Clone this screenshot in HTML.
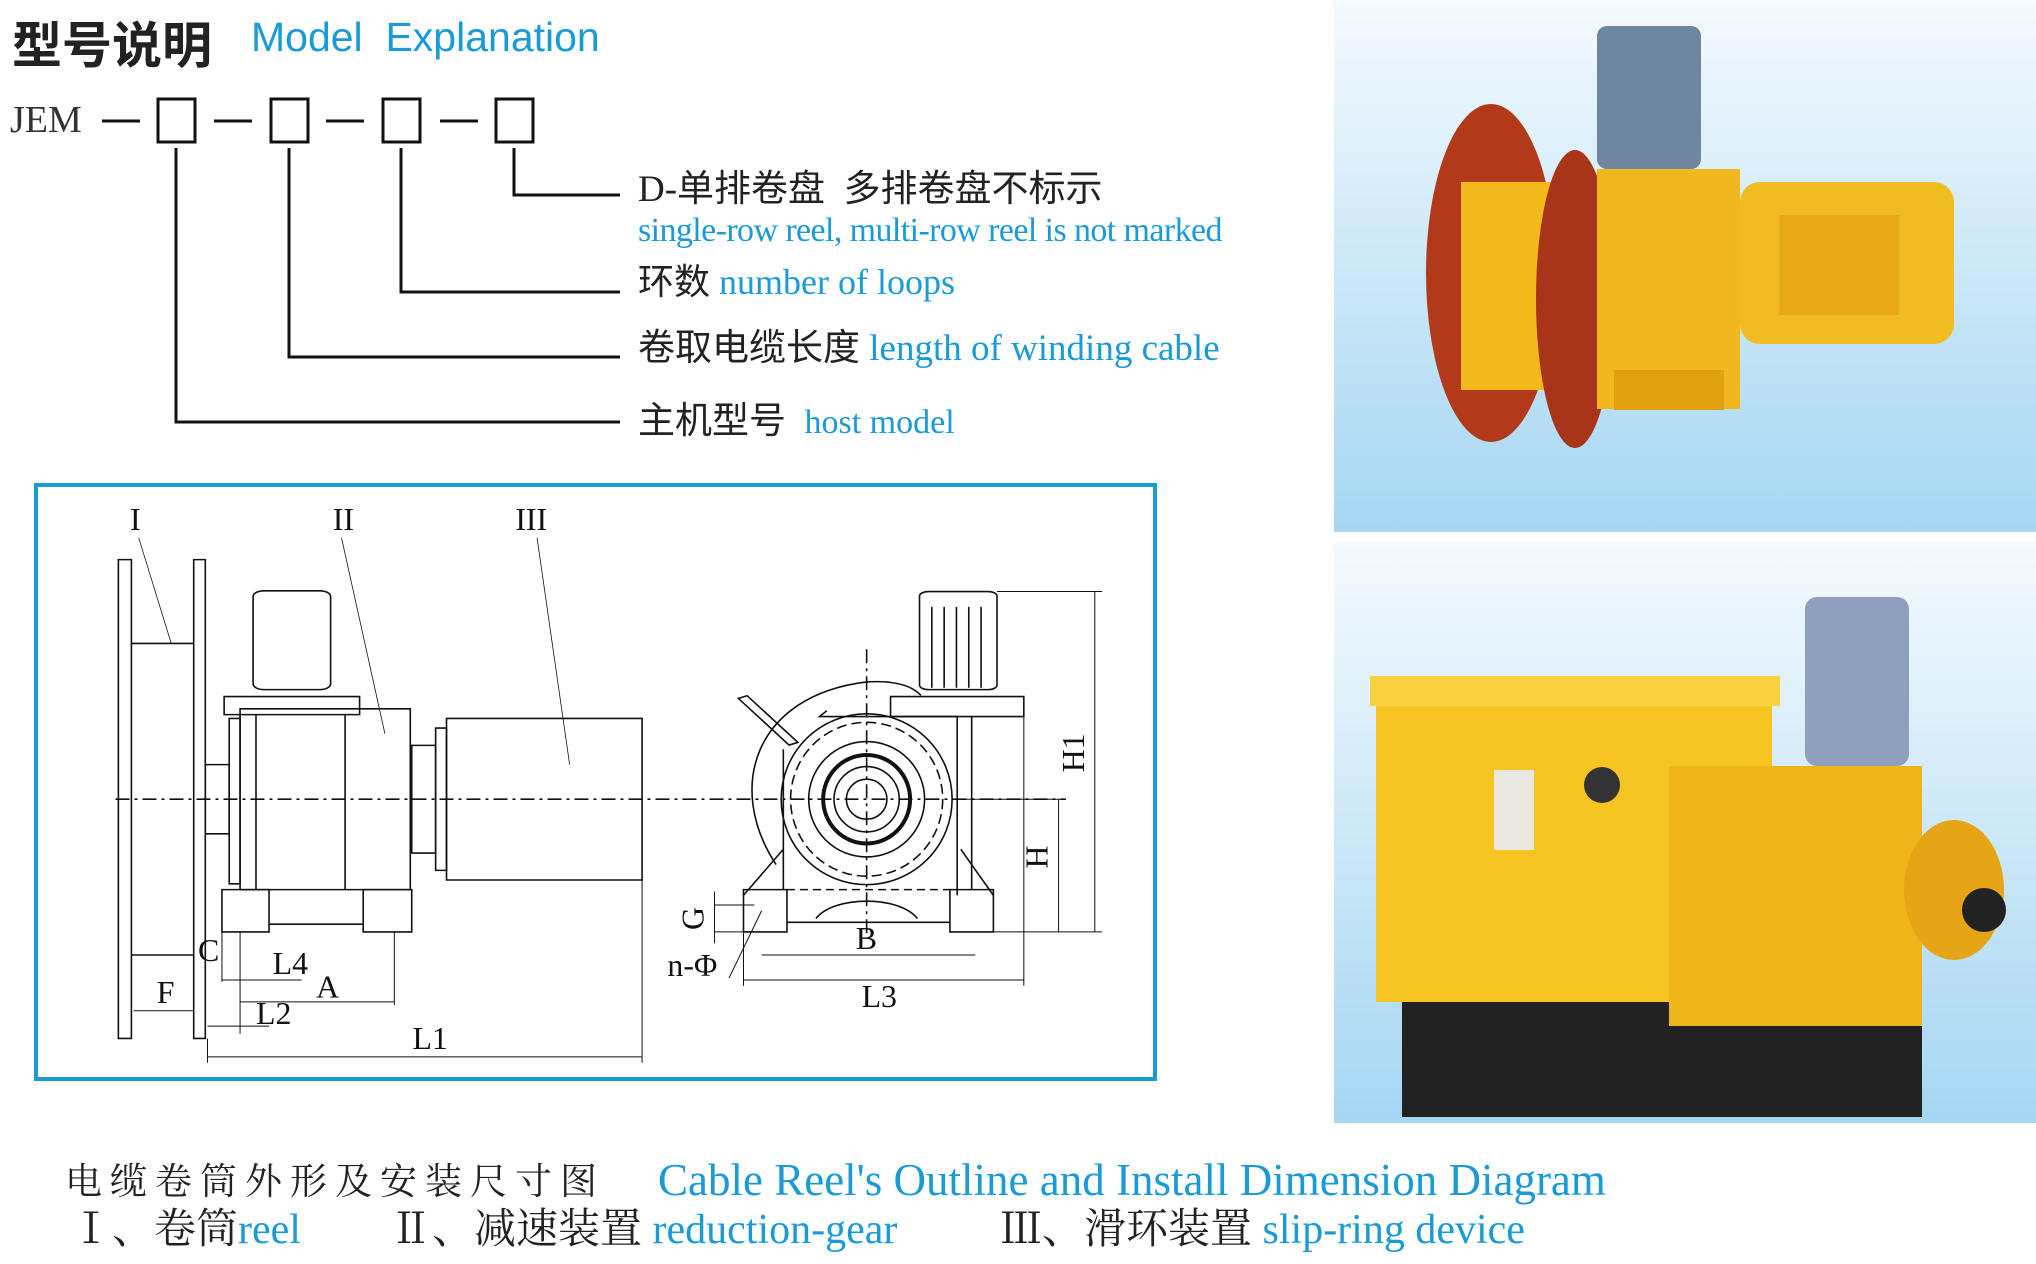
<!DOCTYPE html>
<html><head><meta charset="utf-8"><style>
body{margin:0;width:2036px;height:1264px;background:#fff;position:relative;overflow:hidden;font-family:"Liberation Serif","Noto Serif CJK SC",serif}
.a{position:absolute;white-space:nowrap;line-height:1}
.b{color:#1a9ad6}
.k{color:#222;font-family:"Liberation Serif","Noto Sans CJK SC",serif}
</style></head><body>
<div class="a" style="left:12px;top:6px;font:bold 50px 'Noto Sans CJK SC',sans-serif;color:#222">型号说明</div>
<div class="a b" style="left:251px;top:14px;font:41px 'Liberation Sans',sans-serif">Model&nbsp; Explanation</div>
<div class="a k" style="left:10px;top:101px;font-size:38px;color:#333">JEM</div>

<svg style="position:absolute;left:0;top:0" width="1300" height="460">
<g stroke="#111" stroke-width="3" fill="none">
<line x1="102" y1="121" x2="140" y2="121"/><line x1="214" y1="121" x2="252" y2="121"/><line x1="326" y1="121" x2="364" y2="121"/><line x1="440" y1="121" x2="478" y2="121"/>
<rect x="158" y="99" width="37" height="43"/><rect x="271" y="99" width="37" height="43"/><rect x="383" y="99" width="37" height="43"/><rect x="496" y="99" width="37" height="43"/>
<polyline points="176,148 176,422 620,422"/><polyline points="289,148 289,357 620,357"/><polyline points="401,148 401,292 620,292"/><polyline points="514,148 514,195 620,195"/>
</g></svg>
<div class="a k" style="left:638px;top:171px;font-size:37px">D-单排卷盘&nbsp; 多排卷盘不标示</div>
<div class="a b" style="left:638px;top:214px;font-size:34px;letter-spacing:-0.6px">single-row reel, multi-row reel is not marked</div>
<div class="a k" style="left:638px;top:264px;font-size:36px">环数 <span class="b">number of loops</span></div>
<div class="a k" style="left:638px;top:330px;font-size:37px">卷取电缆长度 <span class="b">length of winding cable</span></div>
<div class="a k" style="left:638px;top:403px;font-size:37px">主机型号&nbsp; <span class="b" style="font-size:34px">host model</span></div>

<div style="position:absolute;left:34px;top:483px;width:1115px;height:590px;border:4px solid #1a9ad6"></div>
<svg style="position:absolute;left:30px;top:480px" width="1130" height="600" viewBox="0 0 1560 1560" preserveAspectRatio="none">
<g stroke="#111" fill="none" stroke-width="1.6" vector-effect="non-scaling-stroke">
<rect x="122" y="207" width="18" height="1245" vector-effect="non-scaling-stroke"/>
<rect x="226" y="207" width="16" height="1245" vector-effect="non-scaling-stroke"/>
<line x1="140" y1="425" x2="226" y2="425" vector-effect="non-scaling-stroke"/>
<line x1="140" y1="1235" x2="226" y2="1235" vector-effect="non-scaling-stroke"/>
<rect x="242" y="740" width="33" height="180" vector-effect="non-scaling-stroke"/>
<rect x="308" y="288" width="107" height="257" rx="15" vector-effect="non-scaling-stroke"/>
<rect x="268" y="563" width="187" height="47" vector-effect="non-scaling-stroke"/>
<rect x="290" y="595" width="235" height="470" vector-effect="non-scaling-stroke"/>
<line x1="312" y1="610" x2="312" y2="1065" vector-effect="non-scaling-stroke"/>
<line x1="435" y1="610" x2="435" y2="1065" vector-effect="non-scaling-stroke"/>
<rect x="275" y="620" width="15" height="430" vector-effect="non-scaling-stroke"/>
<rect x="265" y="1065" width="65" height="110" vector-effect="non-scaling-stroke"/>
<rect x="460" y="1065" width="67" height="110" vector-effect="non-scaling-stroke"/>
<line x1="330" y1="1155" x2="460" y2="1155" vector-effect="non-scaling-stroke"/>
<rect x="527" y="690" width="33" height="280" vector-effect="non-scaling-stroke"/>
<rect x="560" y="645" width="15" height="370" vector-effect="non-scaling-stroke"/>
<rect x="575" y="620" width="270" height="420" vector-effect="non-scaling-stroke"/>
<line x1="118" y1="830" x2="1430" y2="830" stroke-dasharray="14 5 3 5" vector-effect="non-scaling-stroke"/>
<g stroke-width="0.8"><line x1="150" y1="150" x2="195" y2="425" vector-effect="non-scaling-stroke"/><line x1="430" y1="150" x2="490" y2="660" vector-effect="non-scaling-stroke"/><line x1="700" y1="150" x2="745" y2="740" vector-effect="non-scaling-stroke"/></g>
<g stroke-width="1">
<line x1="265" y1="1300" x2="375" y2="1300" vector-effect="non-scaling-stroke"/>
<line x1="290" y1="1357" x2="503" y2="1357" vector-effect="non-scaling-stroke"/>
<line x1="143" y1="1380" x2="226" y2="1380" vector-effect="non-scaling-stroke"/>
<line x1="245" y1="1420" x2="330" y2="1420" vector-effect="non-scaling-stroke"/>
<line x1="245" y1="1500" x2="845" y2="1500" vector-effect="non-scaling-stroke"/>
<line x1="845" y1="1040" x2="845" y2="1515" vector-effect="non-scaling-stroke"/>
<line x1="503" y1="1175" x2="503" y2="1365" vector-effect="non-scaling-stroke"/>
<line x1="290" y1="1175" x2="290" y2="1440" vector-effect="non-scaling-stroke"/>
<line x1="265" y1="1175" x2="265" y2="1305" vector-effect="non-scaling-stroke"/>
<line x1="245" y1="1452" x2="245" y2="1515" vector-effect="non-scaling-stroke"/>
</g>
<path d="M1030,1000 C960,800 1000,560 1155,525 C1200,520 1220,540 1230,560" vector-effect="non-scaling-stroke"/>
<ellipse cx="1155" cy="830" rx="118" ry="222" vector-effect="non-scaling-stroke"/>
<ellipse cx="1155" cy="830" rx="105" ry="200" stroke-dasharray="10 5" vector-effect="non-scaling-stroke"/>
<ellipse cx="1155" cy="830" rx="80" ry="150" vector-effect="non-scaling-stroke"/>
<ellipse cx="1155" cy="830" rx="60" ry="115" stroke-width="4" vector-effect="non-scaling-stroke"/>
<ellipse cx="1155" cy="830" rx="45" ry="85" vector-effect="non-scaling-stroke"/>
<ellipse cx="1155" cy="830" rx="28" ry="52" vector-effect="non-scaling-stroke"/>
<line x1="1155" y1="440" x2="1155" y2="1180" stroke-dasharray="14 5 3 5" vector-effect="non-scaling-stroke"/>
<rect x="1228" y="290" width="107" height="255" rx="12" vector-effect="non-scaling-stroke"/>
<path d="M1245,330V540M1262,330V540M1279,330V540M1296,330V540M1313,330V540" vector-effect="non-scaling-stroke"/>
<rect x="1188" y="563" width="184" height="52" vector-effect="non-scaling-stroke"/>
<polyline points="1100,600 1090,615 1280,615 1280,1080" vector-effect="non-scaling-stroke"/>
<line x1="1300" y1="615" x2="1300" y2="1065" vector-effect="non-scaling-stroke"/>
<line x1="1040" y1="700" x2="1040" y2="1065" vector-effect="non-scaling-stroke"/>
<rect x="1012" y="555" width="14" height="140" transform="rotate(-30 1019 625)" vector-effect="non-scaling-stroke"/>
<rect x="985" y="1065" width="60" height="110" vector-effect="non-scaling-stroke"/>
<rect x="1270" y="1065" width="60" height="110" vector-effect="non-scaling-stroke"/>
<line x1="1045" y1="1150" x2="1270" y2="1150" vector-effect="non-scaling-stroke"/>
<line x1="1045" y1="1065" x2="1270" y2="1065" stroke-dasharray="8 5" vector-effect="non-scaling-stroke"/>
<path d="M1085,1140 C1110,1080 1200,1080 1225,1140" vector-effect="non-scaling-stroke"/>
<line x1="985" y1="1080" x2="1040" y2="960" vector-effect="non-scaling-stroke"/>
<line x1="1330" y1="1080" x2="1285" y2="960" vector-effect="non-scaling-stroke"/>
<g stroke-width="1">
<line x1="1335" y1="290" x2="1480" y2="290" vector-effect="non-scaling-stroke"/>
<line x1="1470" y1="290" x2="1470" y2="1175" vector-effect="non-scaling-stroke"/>
<line x1="1290" y1="830" x2="1430" y2="830" vector-effect="non-scaling-stroke"/>
<line x1="1420" y1="830" x2="1420" y2="1175" vector-effect="non-scaling-stroke"/>
<line x1="1330" y1="1175" x2="1480" y2="1175" vector-effect="non-scaling-stroke"/>
<line x1="945" y1="1105" x2="1000" y2="1105" vector-effect="non-scaling-stroke"/>
<line x1="945" y1="1175" x2="990" y2="1175" vector-effect="non-scaling-stroke"/>
<line x1="945" y1="1070" x2="945" y2="1205" vector-effect="non-scaling-stroke"/>
<line x1="1010" y1="1235" x2="1305" y2="1235" vector-effect="non-scaling-stroke"/>
<line x1="985" y1="1300" x2="1372" y2="1300" vector-effect="non-scaling-stroke"/>
<line x1="1372" y1="615" x2="1372" y2="1315" vector-effect="non-scaling-stroke"/>
<line x1="985" y1="1175" x2="985" y2="1315" vector-effect="non-scaling-stroke"/>
<line x1="1010" y1="1120" x2="965" y2="1295" vector-effect="non-scaling-stroke"/>
</g>
</g>
<g font-family="Liberation Serif,serif" font-size="44" fill="#111">
<text transform="translate(138,130) scale(1,1.88)">I</text>
<text transform="translate(418,130) scale(1,1.88)">II</text>
<text transform="translate(670,130) scale(1,1.88)">III</text>
<text transform="translate(232,1250) scale(1,1.88)">C</text>
<text transform="translate(335,1285) scale(1,1.88)">L4</text>
<text transform="translate(395,1345) scale(1,1.88)">A</text>
<text transform="translate(175,1360) scale(1,1.88)">F</text>
<text transform="translate(312,1415) scale(1,1.88)">L2</text>
<text transform="translate(528,1480) scale(1,1.88)">L1</text>
<text transform="translate(1140,1220) scale(1,1.88)">B</text>
<text transform="translate(1148,1370) scale(1,1.88)">L3</text>
<text transform="translate(880,1290) scale(1,1.88)">n-Φ</text>
<text transform="translate(930,1170) rotate(-90) scale(1.88,1)">G</text>
<text transform="translate(1405,1010) rotate(-90) scale(1.88,1)">H</text>
<text transform="translate(1455,760) rotate(-90) scale(1.88,1)">H1</text>
</g>
</svg>

<svg style="position:absolute;left:1334px;top:0" width="702" height="1123">
<defs><linearGradient id="g" x1="0" y1="0" x2="0" y2="1"><stop offset="0" stop-color="#f4fafd"/><stop offset="1" stop-color="#a6d6f2"/></linearGradient></defs>
<rect x="0" y="0" width="702" height="532" fill="url(#g)"/>
<rect x="0" y="543" width="702" height="580" fill="url(#g)"/>
<ellipse cx="157" cy="273" rx="65" ry="169" fill="#b23a1a"/>
<rect x="127" y="182" width="149" height="208" fill="#f2b81c"/>
<ellipse cx="241" cy="299" rx="39" ry="149" fill="#a8341a"/>
<rect x="263" y="169" width="143" height="240" fill="#f0b81e"/>
<rect x="263" y="26" width="104" height="143" rx="10" fill="#6f85a0"/>
<rect x="406" y="182" width="214" height="162" rx="20" fill="#f1bb22"/>
<rect x="445" y="215" width="120" height="100" fill="#e9a918"/>
<rect x="280" y="370" width="110" height="40" fill="#e0a010"/>
<rect x="68" y="962" width="520" height="155" fill="#222"/>
<rect x="42" y="682" width="396" height="320" fill="#f6c521"/>
<rect x="36" y="676" width="410" height="30" fill="#f9d040"/>
<rect x="160" y="770" width="40" height="80" fill="#e8e8e0"/>
<circle cx="268" cy="785" r="18" fill="#333"/>
<rect x="335" y="766" width="253" height="260" fill="#efb41a"/>
<rect x="471" y="597" width="104" height="169" rx="12" fill="#8ea0be"/>
<ellipse cx="620" cy="890" rx="50" ry="70" fill="#e5a516"/>
<circle cx="650" cy="910" r="22" fill="#222"/>
</svg>

<div class="a k" style="left:65px;top:1160px;font-size:37px;letter-spacing:8px;font-family:'Noto Serif CJK SC',serif">电缆卷筒外形及安装尺寸图</div>
<div class="a b" style="left:658px;top:1158px;font-size:45px">Cable Reel's Outline and Install Dimension Diagram</div>
<div class="a k" style="left:70px;top:1209px;font-size:42px;font-family:'Liberation Serif','Noto Serif CJK SC',serif">Ⅰ、卷筒<span class="b">reel</span></div>
<div class="a k" style="left:390px;top:1209px;font-size:42px;font-family:'Liberation Serif','Noto Serif CJK SC',serif">Ⅱ、减速装置 <span class="b">reduction-gear</span></div>
<div class="a k" style="left:1000px;top:1209px;font-size:42px;font-family:'Liberation Serif','Noto Serif CJK SC',serif">Ⅲ、滑环装置 <span class="b">slip-ring device</span></div>
</body></html>
